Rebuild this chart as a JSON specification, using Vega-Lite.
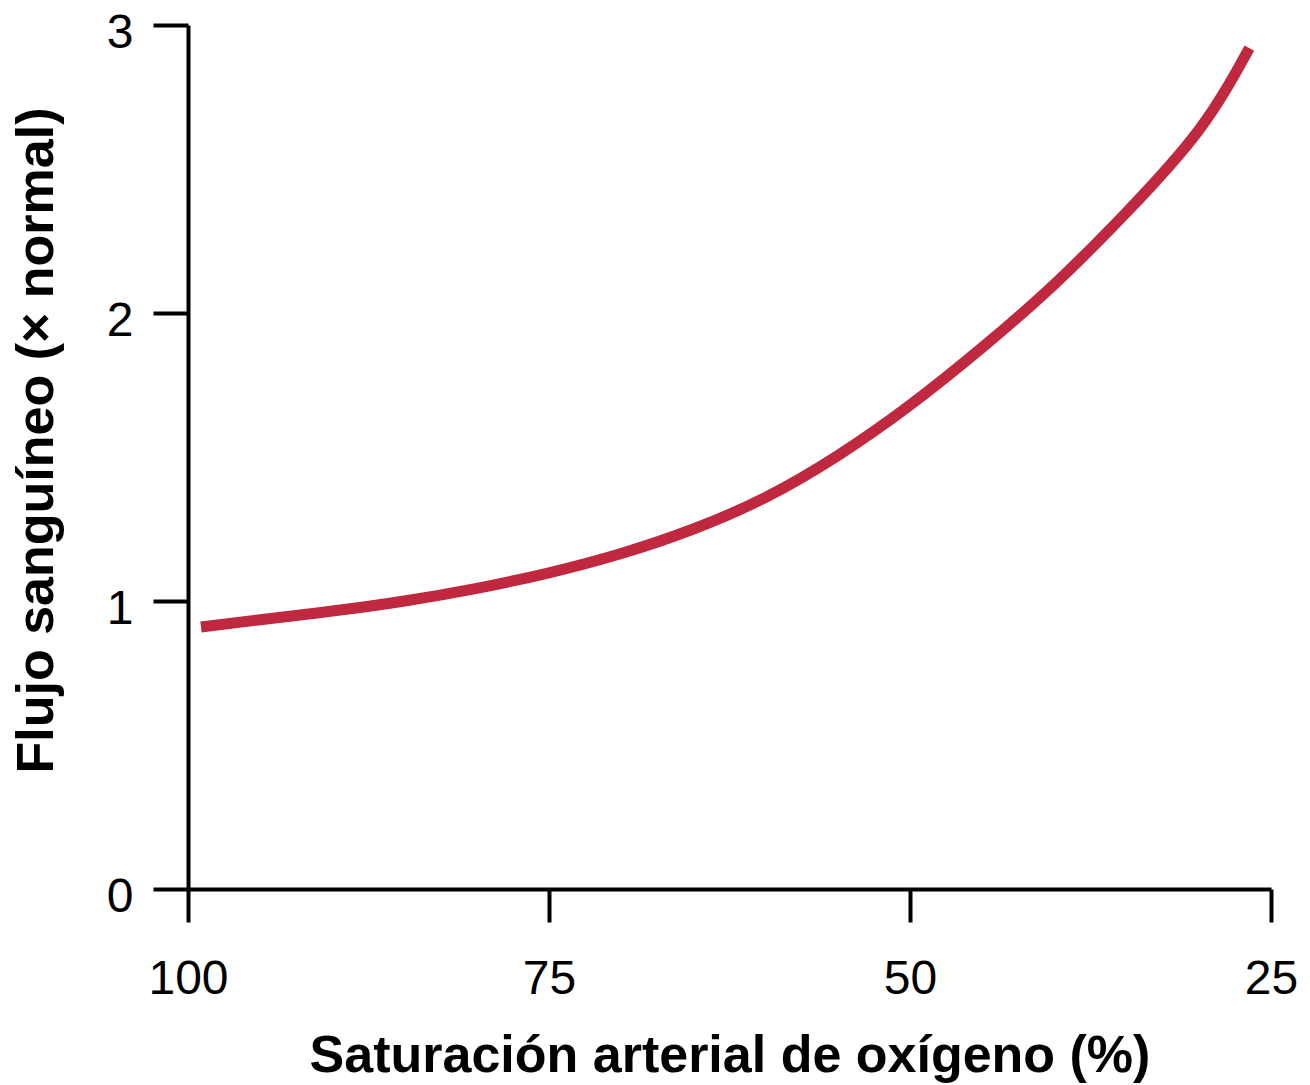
{
  "$schema": "https://vega.github.io/schema/vega-lite/v6.json",
  "width": 1083,
  "height": 864,
  "autosize": {"type": "none"},
  "padding": {"left": 188, "top": 25, "right": 39, "bottom": 196},
  "background": "white",
  "config": {
    "view": {"stroke": null},
    "font": "Liberation Sans"
  },
  "data": {
    "values": [
      {"sat": 99.1, "flow": 0.91},
      {"sat": 95, "flow": 0.935},
      {"sat": 90, "flow": 0.965},
      {"sat": 85, "flow": 1.0},
      {"sat": 80, "flow": 1.044},
      {"sat": 75, "flow": 1.098},
      {"sat": 70, "flow": 1.165},
      {"sat": 65, "flow": 1.25},
      {"sat": 60, "flow": 1.36},
      {"sat": 55, "flow": 1.505},
      {"sat": 50, "flow": 1.68},
      {"sat": 45, "flow": 1.88},
      {"sat": 40, "flow": 2.1},
      {"sat": 35, "flow": 2.35},
      {"sat": 30, "flow": 2.635},
      {"sat": 26.5, "flow": 2.92}
    ]
  },
  "mark": {"type": "line", "color": "#c0283f", "strokeWidth": 11, "interpolate": "natural", "strokeCap": "butt"},
  "encoding": {
    "x": {
      "field": "sat",
      "type": "quantitative",
      "scale": {"domain": [100, 25], "nice": false, "zero": false},
      "axis": {
        "title": "Saturación arterial de oxígeno (%)",
        "values": [100, 75, 50, 25],
        "grid": false,
        "domainColor": "black",
        "domainWidth": 4,
        "tickColor": "black",
        "tickWidth": 4,
        "tickSize": 33,
        "labelFont": "Liberation Sans",
        "labelFontSize": 48,
        "labelColor": "black",
        "labelPadding": 33,
        "labelFlush": false,
        "titleFont": "Liberation Sans",
        "titleFontSize": 52,
        "titleFontWeight": "bold",
        "titleColor": "black",
        "titleBaseline": "alphabetic",
        "titleY": 182,
        "titleX": 541.5,
        "titleAnchor": "middle"
      }
    },
    "y": {
      "field": "flow",
      "type": "quantitative",
      "scale": {"domain": [0, 3], "nice": false, "zero": true},
      "axis": {
        "title": "Flujo sanguíneo (× normal)",
        "values": [0, 1, 2, 3],
        "grid": false,
        "domainColor": "black",
        "domainWidth": 4,
        "tickColor": "black",
        "tickWidth": 4,
        "tickSize": 35,
        "labelFont": "Liberation Sans",
        "labelFontSize": 48,
        "labelColor": "black",
        "labelPadding": 20,
        "labelOffset": 8,
        "labelFlush": false,
        "titleFont": "Liberation Sans",
        "titleFontSize": 52,
        "titleFontWeight": "bold",
        "titleColor": "black",
        "titleAngle": -90,
        "titleBaseline": "alphabetic",
        "titleAlign": "center",
        "titleX": -136,
        "titleY": 415
      }
    }
  }
}
